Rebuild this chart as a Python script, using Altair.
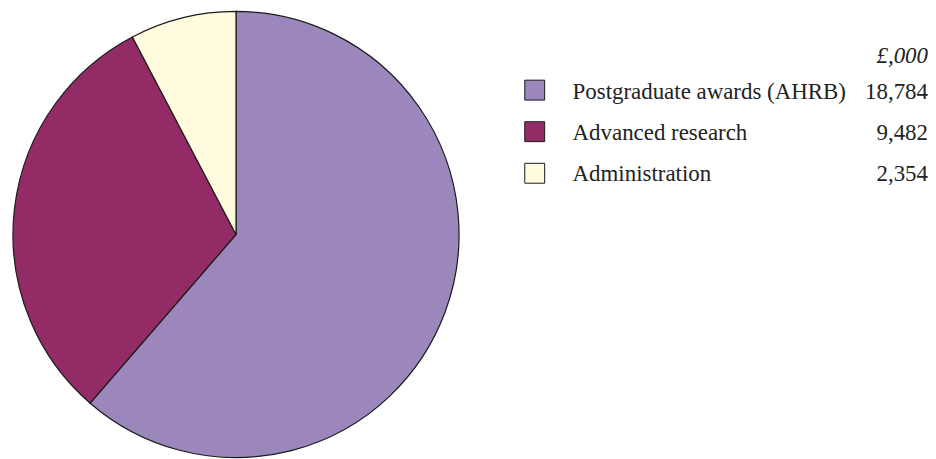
import altair as alt
import pandas as pd

categories = ["Postgraduate awards (AHRB)", "Advanced research", "Administration"]
values = [18784, 9482, 2354]
value_labels = ["18,784", "9,482", "2,354"]
colors = ["#9b87bb", "#922b66", "#fffbdf"]
unit_label = ["£,000"]

df = pd.DataFrame({
    "category": categories,
    "value": values,
    "vlabel": value_labels,
    "idx": list(range(len(categories))),
})

FONT = "Liberation Serif"
FS = 23
TXT = "#222222"

color = alt.Color("category:N", scale=alt.Scale(domain=categories, range=colors), legend=None)

pie = alt.Chart(df).mark_arc(outerRadius=224, stroke="#1a1a1a", strokeWidth=1.2).encode(
    theta=alt.Theta("value:Q", stack=True),
    order=alt.Order("idx:Q"),
    color=color,
    x=alt.value(229),
    y=alt.value(224.5),
)

ysq = alt.Y("category:N", sort=categories, axis=None,
            scale=alt.Scale(domain=categories, range=[79.5, 163], padding=0))
ytx = alt.Y("category:N", sort=categories, axis=None,
            scale=alt.Scale(domain=categories, range=[88, 171], padding=0))

squares = alt.Chart(df).mark_square(size=400, stroke="#1a1a1a", strokeWidth=1, opacity=1).encode(
    x=alt.value(529), y=ysq, color=color
)

labels = alt.Chart(df).mark_text(align="left", baseline="alphabetic", font=FONT, fontSize=FS, color=TXT).encode(
    x=alt.value(567), y=ytx, text="category:N"
)

vals = alt.Chart(df).mark_text(align="right", baseline="alphabetic", font=FONT, fontSize=FS, color=TXT).encode(
    x=alt.value(924), y=ytx, text="vlabel:N"
)

unit = alt.Chart(pd.DataFrame({"t": unit_label})).mark_text(
    align="right", baseline="alphabetic", font=FONT, fontSize=FS, fontStyle="italic", color=TXT
).encode(x=alt.value(924), y=alt.value(52), text="t:N")

chart = alt.layer(pie, squares, labels, vals, unit).resolve_scale(y="independent").properties(
    width=920, height=443, padding=0
).configure_view(stroke=None)

chart.save("out.html", embed_options={"renderer": "svg", "actions": False})
